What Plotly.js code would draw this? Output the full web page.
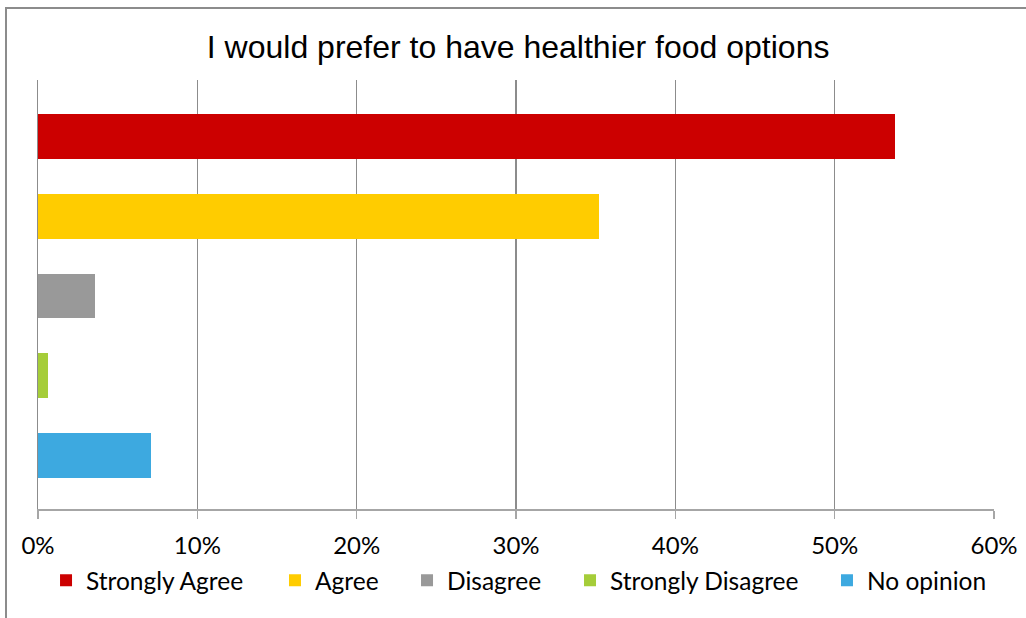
<!DOCTYPE html>
<html>
<head>
<meta charset="utf-8">
<script src="https://cdn.plot.ly/plotly-3.0.1.min.js"></script>
<style>
  html, body { margin: 0; padding: 0; background: #fff; }
  #wrap { position: relative; width: 1026px; height: 618px; overflow: hidden; }
  #chart { width: 1026px; height: 618px; }
  #frame { position: absolute; left: 5px; top: 7px; width: 1100px; height: 700px;
           border-left: 2px solid #8c8c8c; border-top: 2px solid #8c8c8c; pointer-events: none; }
</style>
</head>
<body>
<div id="wrap">
  <div id="chart"></div>
  <div id="frame"></div>
</div>
<script>
const chartTitle = "I would prefer to have healthier food options";
const categories = ["Strongly Agree", "Agree", "Disagree", "Strongly Disagree", "No opinion"];
const values = [0.538, 0.352, 0.036, 0.006, 0.071];
const colors = ["#CC0000", "#FFCC00", "#999999", "#A5CD39", "#3DA9E0"];
const tickValues = [0, 0.1, 0.2, 0.3, 0.4, 0.5, 0.6];
const tickLabels = ["0%", "10%", "20%", "30%", "40%", "50%", "60%"];

// legend positions (paper x) for each entry
const legendX = [0.0084, 0.2479, 0.3860, 0.5565, 0.8253];

const traces = categories.map((c, i) => ({
  type: "bar",
  orientation: "h",
  name: c,
  x: [values[i]],
  y: [i],
  width: 0.5625,
  marker: { color: colors[i] },
  legend: i === 0 ? "legend" : "legend" + (i + 1),
  hoverinfo: "name+x"
}));

const legendBase = {
  orientation: "h",
  xanchor: "left",
  yanchor: "middle",
  y: -0.166,
  bgcolor: "rgba(0,0,0,0)",
  font: { family: "Lato, 'Open Sans', sans-serif", size: 24.5, color: "#000" },
  itemwidth: 30,
  tracegroupgap: 0
};

const layout = {
  width: 1026,
  height: 618,
  paper_bgcolor: "#fff",
  plot_bgcolor: "#fff",
  margin: { l: 38, r: 32, t: 80, b: 109, autoexpand: false },
  title: {
    text: chartTitle,
    font: { family: "'Liberation Sans', Arial, sans-serif", size: 32, color: "#000" },
    x: 0.505, xref: "container", xanchor: "center",
    y: 1 - 47 / 618, yref: "container", yanchor: "middle"
  },
  bargap: 0,
  xaxis: {
    range: [0, 0.6],
    tickvals: tickValues,
    ticktext: tickLabels,
    showgrid: true,
    gridcolor: "#8c8c8c",
    gridwidth: 1.5,
    zeroline: false,
    showline: true,
    linecolor: "#a6a6a6",
    linewidth: 1.5,
    ticks: "outside",
    ticklen: 8,
    tickcolor: "#a6a6a6",
    tickwidth: 1.5,
    ticklabelstandoff: 7,
    automargin: false,
    tickfont: { family: "Lato, 'Open Sans', sans-serif", size: 24, color: "#000" },
    fixedrange: true
  },
  yaxis: {
    range: [4.669, -0.706],
    showticklabels: false,
    showgrid: false,
    zeroline: false,
    showline: true,
    linecolor: "#8c8c8c",
    linewidth: 1.5,
    ticks: "",
    automargin: false,
    fixedrange: true
  },
  showlegend: true
};

legendX.forEach((lx, i) => {
  const key = i === 0 ? "legend" : "legend" + (i + 1);
  layout[key] = Object.assign({}, legendBase, { x: lx });
});

Plotly.newPlot("chart", traces, layout, { displayModeBar: false, staticPlot: true });
</script>
</body>
</html>
